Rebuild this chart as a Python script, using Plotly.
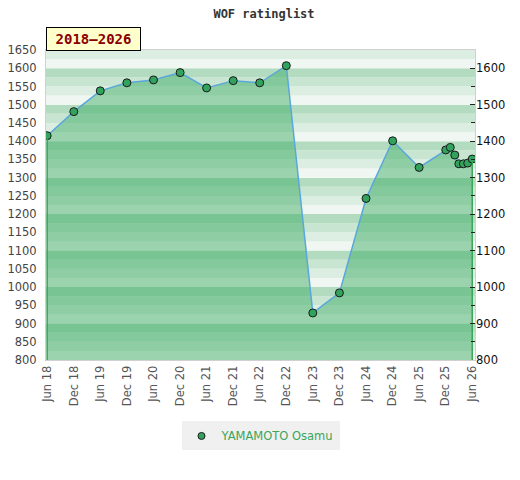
import plotly.graph_objects as go

# rating history
dates = [
    "2018-06-01", "2018-12-01", "2019-06-01", "2019-12-01", "2020-06-01",
    "2020-12-01", "2021-06-01", "2021-12-01", "2022-06-01", "2022-12-01",
    "2023-06-01", "2023-12-01", "2024-06-01", "2024-12-01", "2025-06-01",
    "2025-12-01", "2026-01-01", "2026-02-01", "2026-03-01", "2026-04-01",
    "2026-05-01", "2026-06-01",
]
ratings = [
    1415, 1481, 1538, 1560, 1568, 1588, 1546, 1566, 1560, 1607,
    929, 984, 1243, 1401, 1328, 1376, 1383, 1362, 1338, 1338, 1340, 1351,
]
player = "YAMAMOTO Osamu"
period = "2018–2026"

Y_MIN, Y_MAX = 800, 1650
X_RANGE = ["2018-05-24", "2026-06-20"]

# stripes: 4 bands per hundred, lightest at the bottom
band_colors = ["#f0f7f2", "#dcede1", "#c8e5d1", "#b3dbc0"]
BAND = 25

shapes = []
v = Y_MIN
while v < Y_MAX:
    idx = int((v % 100) // BAND)
    shapes.append(dict(
        type="rect", xref="paper", yref="y", layer="below",
        x0=0, x1=1, y0=v, y1=v + BAND,
        fillcolor=band_colors[idx], line=dict(width=0),
    ))
    v += BAND

MARKER = dict(size=8, color="#31a35d", line=dict(color="#1a1a1a", width=1))

fig = go.Figure()

fig.add_trace(go.Scatter(
    x=dates, y=ratings, name=player, showlegend=False,
    mode="lines+markers",
    fill="tozeroy", fillcolor="rgba(46,166,89,0.44)",
    line=dict(color="#5aa7dc", width=1.5),
    marker=MARKER,
))

# green edges of the area at both ends
fig.add_trace(go.Scatter(
    x=[dates[0], dates[0], None, dates[-1], dates[-1]],
    y=[Y_MIN, ratings[0], None, Y_MIN, ratings[-1]],
    mode="lines", line=dict(color="#3aa55a", width=1.5),
    showlegend=False, hoverinfo="skip", yaxis="y2",
))

# legend entry: marker only
fig.add_trace(go.Scatter(
    x=[None], y=[None], name=player, mode="markers",
    marker=dict(size=7, color="#31a35d", line=dict(color="#1a1a1a", width=1)),
))

fig.update_layout(
    width=512, height=472,
    margin=dict(l=38, r=45, t=42, b=120),
    paper_bgcolor="white", plot_bgcolor="white",
    shapes=shapes,
    title=dict(
        text="WOF ratinglist", x=0.5, xanchor="center",
        y=0.988, yanchor="middle", yref="container",
        font=dict(family="DejaVu Sans Mono", size=12, color="#333333", weight="bold"),
    ),
    xaxis=dict(
        type="date", range=X_RANGE, automargin=False,
        tick0="2018-06-01", dtick="M6", tickformat="%b %y",
        tickangle=-90, showgrid=False, zeroline=False,
        showline=True, linecolor="#d0d0d0", mirror=True,
        ticks="", tickfont=dict(family="DejaVu Sans", size=11.5, color="#555555"),
    ),
    yaxis=dict(
        range=[Y_MIN, Y_MAX], dtick=50, showgrid=False, zeroline=False,
        automargin=False, ticklabelstandoff=6,
        showline=True, linecolor="#d0d0d0", mirror=True, ticks="",
        tickfont=dict(family="DejaVu Sans", size=11.5, color="#444444"),
    ),
    yaxis2=dict(
        overlaying="y", side="right", matches="y", automargin=False,
        range=[Y_MIN, Y_MAX], dtick=100, showgrid=False, zeroline=False,
        ticks="inside", ticklen=5, tickcolor="#222222",
        minor=dict(dtick=50, ticks="inside", ticklen=4, tickcolor="#222222"),
        tickfont=dict(family="DejaVu Sans", size=11.5, color="#111111"),
    ),
    legend=dict(
        orientation="h", x=0.5, xanchor="center", y=-0.245, yanchor="middle",
        itemwidth=30,
        bgcolor="#f0f0f0", font=dict(family="DejaVu Sans", size=11.5, color="#3aa55a"),
    ),
    annotations=[dict(
        text=period, xref="paper", yref="paper", x=0, y=1, yshift=-1,
        xanchor="left", yanchor="bottom", showarrow=False,
        width=89, height=18, align="center",
        bgcolor="#ffffcc", bordercolor="#000000", borderwidth=1, borderpad=2,
        font=dict(family="DejaVu Sans Mono", size=14, color="#8b0000", weight="bold"),
    )],
)

fig.write_html("out.html")
